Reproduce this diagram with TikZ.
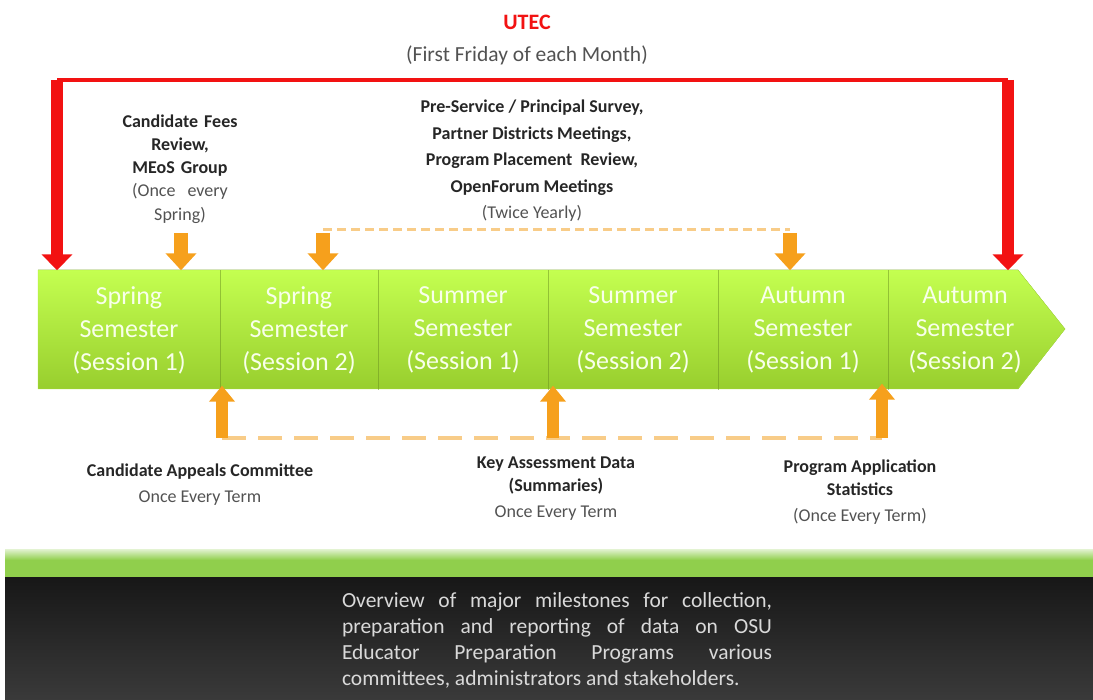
\documentclass[tikz,border=0pt]{standalone}
\usepackage{fontspec}
\setmainfont{Carlito}
\usetikzlibrary{arrows.meta,positioning}
\definecolor{bandtop}{HTML}{C4FF50}
\definecolor{bandbot}{HTML}{98CE2E}
\definecolor{utecred}{HTML}{F21212}
\definecolor{arrorange}{HTML}{F6A01C}
\definecolor{dashorange}{HTML}{F8CC88}
\definecolor{stripgreen}{HTML}{90CF4C}
\definecolor{darktop}{HTML}{171717}
\definecolor{darkbot}{HTML}{3A3A3A}

\begin{document}
\begin{tikzpicture}[x=1pt,y=-1pt,
  cell/.style={minimum height=119pt, inner sep=0pt, align=center, text=white!88!bandtop, font=\fontsize{26}{33}\selectfont},
  head/.style={align=center, text=black!85, font=\bfseries\fontsize{18}{24}\selectfont},
  note/.style={align=center, text=black!68, font=\fontsize{18}{24}\selectfont},
  divider/.style={draw=bandbot!70!black, opacity=0.5, line width=0.8pt},
  redarr/.style={utecred, line width=12pt, -{Triangle[width=30pt,length=16pt]}},
  orarr/.style={arrorange, line width=14pt, -{Triangle[width=30pt,length=17pt]}},
  uparr/.style={arrorange, line width=12pt, -{Triangle[width=25pt,length=16pt]}},
  dashtop/.style={dashorange, line width=3pt, dash pattern=on 9pt off 5pt},
  dashbot/.style={dashorange, line width=4pt, dash pattern=on 24pt off 12pt}
]
\useasboundingbox (0,0) rectangle (1093,700);

% timeline band
\fill[top color=bandtop, bottom color=bandbot, draw=bandtop!60!bandbot]
  (38,270) -- (1018,270) -- (1065,329) -- (1018,389) -- (38,389) -- cycle;
\node[cell, minimum width=182pt] (sp1) at (129,330) {Spring\\Semester\\(Session 1)};
\node[cell, minimum width=158pt] (sp2) at (299,330) {Spring\\Semester\\(Session 2)};
\node[cell, minimum width=170pt] (su1) at (463,330) {Summer\\Semester\\(Session 1)};
\node[cell, minimum width=170pt] (su2) at (633,330) {Summer\\Semester\\(Session 2)};
\node[cell, minimum width=170pt] (au1) at (803,330) {Autumn\\Semester\\(Session 1)};
\node[cell, minimum width=154pt] (au2) at (965,330) {Autumn\\Semester\\(Session 2)};
\foreach \c in {sp1,sp2,su1,su2,au1}
  \draw[divider] (\c.north east) -- (\c.south east);

% UTEC loop
\node[text=utecred, font=\bfseries\fontsize{22}{24}\selectfont] (utec) at (527,22) {UTEC};
\node[text=black!68, font=\fontsize{21.5}{24}\selectfont] (utecwhen) at (527,55) {(First Friday of each Month)};
\coordinate (utecL) at (57,80);
\coordinate (utecR) at (1008,80);
\draw[utecred, line width=4pt] (utecL) -- (utecR);
\draw[redarr] (utecL) -- (utecL |- sp1.north);
\draw[redarr] (utecR) -- (utecR |- au2.north);

% top milestones
\node[head, text width=150pt] (fees) at (180,169)
  {\baselineskip=23pt Candidate Fees\\Review,\\MEoS Group\\\mdseries\color{black!68}(Once\ \ every\\Spring)};
\node[head, font=\bfseries\fontsize{18}{26.5}\selectfont] (survey) at (532,161)
  {Pre-Service / Principal Survey,\\Partner Districts Meetings,\\Program Placement\ \ Review,\\OpenForum Meetings\\\mdseries\color{black!68}(Twice Yearly)};
\coordinate (feesT) at (181,233);
\coordinate (survT1) at (323,233);
\coordinate (survT2) at (790,233);
\draw[dashtop] ([yshift=3pt]survT1) -- ([yshift=3pt]survT2);
\draw[orarr] (feesT) -- (feesT |- sp1.north);
\draw[orarr] (survT1) -- (survT1 |- sp2.north);
\draw[orarr] (survT2) -- (survT2 |- au1.north);

% bottom milestones
\coordinate (appB) at (222,438);
\coordinate (keyB) at (553,438);
\coordinate (progB) at (882,438);
\draw[dashbot] (appB) -- (progB);
\draw[uparr] (appB) -- ([yshift=4pt]appB |- sp2.south);
\draw[uparr] (keyB) -- ([yshift=4pt]keyB |- su2.south);
\draw[uparr] (progB) -- ([yshift=6pt]progB |- au2.south);
\node[head] (appeals) at (200,472) {Candidate Appeals Committee};
\node[note] (appwhen) at (200,498) {Once Every Term};
\node[head, font=\bfseries\fontsize{18}{23}\selectfont] (keydata) at (556,476) {Key Assessment Data\\(Summaries)};
\node[note] (keywhen) at (556,513) {Once Every Term};
\node[head, font=\bfseries\fontsize{18}{23}\selectfont] (progstat) at (860,478) {Program Application\\Statistics};
\node[note] (progwhen) at (860,516) {(Once Every Term)};

% caption band
\fill[top color=stripgreen!25!white, bottom color=stripgreen] (5,549) rectangle (1093,560);
\fill[stripgreen] (5,560) rectangle (1093,577);
\fill[top color=darktop, bottom color=darkbot] (5,577) rectangle (1093,700);
\node[text width=430pt, align=justify, inner sep=0pt, text=white!85!black, font=\fontsize{21.5}{26}\selectfont] (caption) at (557,640)
  {Overview of major milestones for collection,\linebreak preparation and reporting of data on OSU\linebreak Educator Preparation Programs various\linebreak committees, administrators and stakeholders.};
\end{tikzpicture}
\end{document}
